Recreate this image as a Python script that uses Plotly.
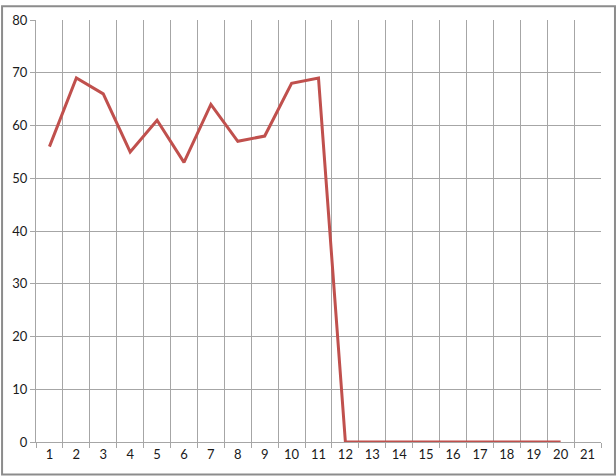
import plotly.graph_objects as go

categories = list(range(1, 22))
values = [56, 69, 66, 55, 61, 53, 64, 57, 58, 68, 69, 0, 0, 0, 0, 0, 0, 0, 0, 0, None]
y_ticks = list(range(0, 81, 10))

W, H = 616, 476
L, R, T, B = 35, 15, 15, 34
pw, ph = W - L - R, H - T - B

fig = go.Figure()
fig.add_trace(go.Scatter(x=categories, y=values, mode="lines",
                         line=dict(color="#C0504D", width=3), connectgaps=False,
                         hoverinfo="skip"))

grid = "#A6A6A6"
fig.update_layout(
    width=W, height=H,
    margin=dict(l=L, r=R, t=T, b=B),
    paper_bgcolor="white", plot_bgcolor="white",
    showlegend=False,
    font=dict(family="Lato, Open Sans, sans-serif", size=13, color="#1a1a1a"),
    xaxis=dict(
        range=[0.5, 21.5],
        tickmode="array", tickvals=categories, ticktext=[str(c) for c in categories],
        showgrid=False, ticks="", zeroline=False,
        showline=True, linecolor=grid, linewidth=1,
        minor=dict(tickmode="array", tickvals=[c - 0.5 for c in categories] + [21.5],
                   showgrid=True, gridcolor=grid, gridwidth=1,
                   ticks="outside", ticklen=5, tickcolor=grid),
        fixedrange=True,
    ),
    yaxis=dict(
        range=[0, 80], tickmode="array", tickvals=y_ticks,
        showgrid=True, gridcolor=grid, gridwidth=1,
        ticks="outside", ticklen=5, tickcolor=grid,
        showline=True, linecolor=grid, linewidth=1, zeroline=False,
        fixedrange=True,
    ),
)

# outer chart border
fig.add_shape(type="rect", xref="paper", yref="paper",
              x0=(1 - L) / pw, x1=(W - 1 - L) / pw,
              y0=-(H - 1 - T - ph) / ph, y1=(H - 1 - B) / ph,
              line=dict(color="#8C8C8C", width=2), layer="below")

fig.write_html(
    "out.html", config={"displayModeBar": False},
    post_script=("document.body.style.margin='0';document.body.style.overflow='hidden';"
                 "var d=document.getElementById('{plot_id}');"
                 "d.style.position='absolute';d.style.top='0px';d.style.left='0px';"))
